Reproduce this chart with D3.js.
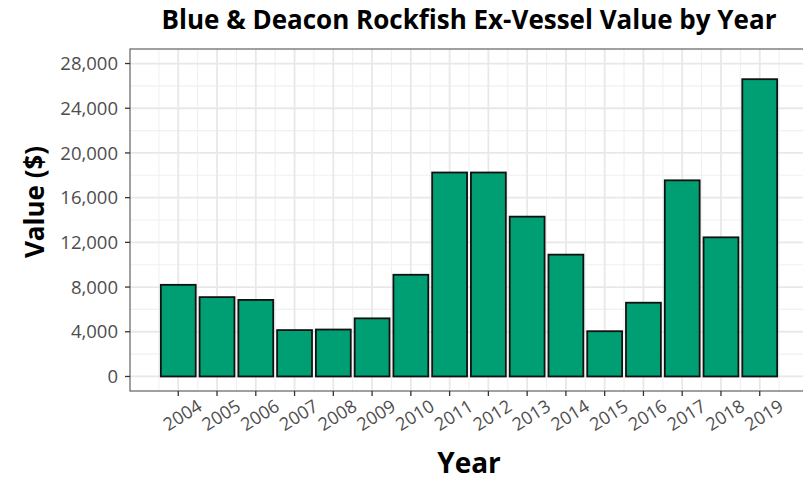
<!DOCTYPE html>
<html>
<head>
<meta charset="utf-8">
<script src="https://cdn.jsdelivr.net/npm/d3@7"></script>
<style>
  html, body { margin: 0; padding: 0; background: #fff; }
  svg { display: block; }
</style>
</head>
<body>
<svg id="chart" width="803" height="481"></svg>
<script>
const years = [2004, 2005, 2006, 2007, 2008, 2009, 2010, 2011, 2012, 2013, 2014, 2015, 2016, 2017, 2018, 2019];
const values = [8200, 7100, 6850, 4150, 4200, 5200, 9100, 18250, 18250, 14300, 10900, 4050, 6600, 17550, 12450, 26600];
const yTicks = [0, 4000, 8000, 12000, 16000, 20000, 24000, 28000];
const yMinor = [2000, 6000, 10000, 14000, 18000, 22000, 26000];
const titleText = "Blue & Deacon Rockfish Ex-Vessel Value by Year";
const xLabel = "Year";
const yLabel = "Value ($)";

const font = "'Open Sans', 'DejaVu Sans', sans-serif";
const svg = d3.select("#chart");

const panel = { left: 130, right: 808, top: 49, bottom: 391 };
const barWidth = 0.9;
const xPad = (years[years.length - 1] - years[0] + barWidth) * 0.05;
const x = d3.scaleLinear()
  .domain([years[0] - barWidth / 2 - xPad, years[years.length - 1] + barWidth / 2 + xPad])
  .range([panel.left, panel.right]);
const y = d3.scaleLinear()
  .domain([-1300, 29300])
  .range([panel.bottom, panel.top]);

const g = svg.append("g");

// minor grid
const xMinor = years.slice(0, -1).map(d => d + 0.5).concat([years[0] - 0.5, years[years.length - 1] + 0.5]);
g.selectAll(".xminor").data(xMinor).join("line")
  .attr("x1", d => x(d)).attr("x2", d => x(d))
  .attr("y1", panel.top).attr("y2", panel.bottom)
  .attr("stroke", "#f0f0f0").attr("stroke-width", 1.1);
g.selectAll(".yminor").data(yMinor).join("line")
  .attr("x1", panel.left).attr("x2", panel.right)
  .attr("y1", d => y(d)).attr("y2", d => y(d))
  .attr("stroke", "#f0f0f0").attr("stroke-width", 1.1);
// major grid
g.selectAll(".xmajor").data(years).join("line")
  .attr("x1", d => x(d)).attr("x2", d => x(d))
  .attr("y1", panel.top).attr("y2", panel.bottom)
  .attr("stroke", "#e8e8e8").attr("stroke-width", 1.8);
g.selectAll(".ymajor").data(yTicks).join("line")
  .attr("x1", panel.left).attr("x2", panel.right)
  .attr("y1", d => y(d)).attr("y2", d => y(d))
  .attr("stroke", "#e8e8e8").attr("stroke-width", 1.8);

// bars
const bw = x(years[0] + barWidth / 2) - x(years[0] - barWidth / 2);
g.selectAll(".bar").data(years).join("rect")
  .attr("x", d => x(d) - bw / 2)
  .attr("width", bw)
  .attr("y", (d, i) => y(values[i]))
  .attr("height", (d, i) => y(0) - y(values[i]))
  .attr("fill", "#009E73")
  .attr("stroke", "#111")
  .attr("stroke-width", 1.8);

// panel border
g.append("rect")
  .attr("x", panel.left).attr("y", panel.top)
  .attr("width", panel.right - panel.left).attr("height", panel.bottom - panel.top)
  .attr("fill", "none").attr("stroke", "#6e6e6e").attr("stroke-width", 1.3);

// y axis ticks + labels
g.selectAll(".ytick").data(yTicks).join("line")
  .attr("x1", panel.left - 5).attr("x2", panel.left)
  .attr("y1", d => y(d)).attr("y2", d => y(d))
  .attr("stroke", "#333").attr("stroke-width", 1.3);
g.selectAll(".ylab").data(yTicks).join("text")
  .attr("x", panel.left - 12)
  .attr("y", d => y(d))
  .attr("dy", "0.36em")
  .attr("text-anchor", "end")
  .attr("font-family", font)
  .attr("font-size", 18.5)
  .attr("fill", "#4d4d4d")
  .text(d => d3.format(",")(d));

// x axis ticks + labels
g.selectAll(".xtick").data(years).join("line")
  .attr("x1", d => x(d)).attr("x2", d => x(d))
  .attr("y1", panel.bottom).attr("y2", panel.bottom + 5)
  .attr("stroke", "#333").attr("stroke-width", 1.3);
g.selectAll(".xlab").data(years).join("text")
  .attr("transform", d => `translate(${x(d) + 4},${415}) rotate(-32)`)
  .attr("text-anchor", "middle")
  .attr("dy", "0.36em")
  .attr("font-family", font)
  .attr("font-size", 18)
  .attr("fill", "#4d4d4d")
  .text(d => d);

// titles
const cx = (panel.left + panel.right) / 2;
svg.append("text")
  .attr("x", cx).attr("y", 29)
  .attr("text-anchor", "middle")
  .attr("font-family", font)
  .attr("font-weight", "bold")
  .attr("font-size", 26)
  .attr("fill", "#000")
  .text(titleText);
svg.append("text")
  .attr("x", cx).attr("y", 473)
  .attr("text-anchor", "middle")
  .attr("font-family", font)
  .attr("font-weight", "bold")
  .attr("font-size", 28)
  .attr("fill", "#000")
  .text(xLabel);
svg.append("text")
  .attr("transform", `translate(44,202) rotate(-90)`)
  .attr("text-anchor", "middle")
  .attr("font-family", font)
  .attr("font-weight", "bold")
  .attr("font-size", 26)
  .attr("fill", "#000")
  .text(yLabel);
</script>
</body>
</html>
